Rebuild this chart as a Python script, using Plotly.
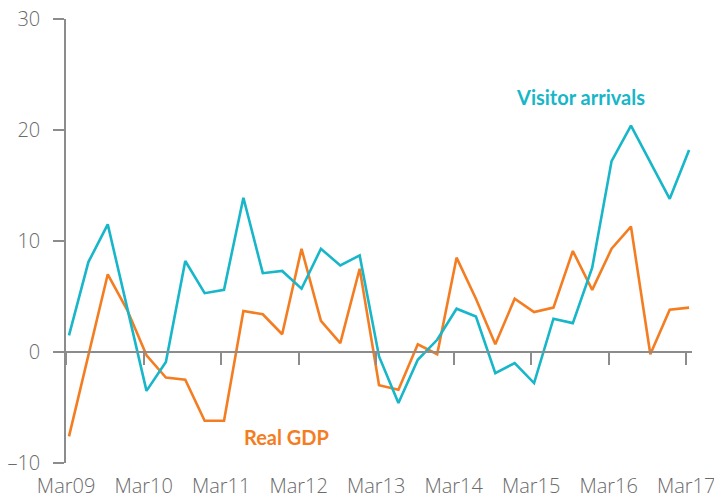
import plotly.graph_objects as go

quarters = list(range(33))
tick_labels = ["Mar09", "Mar10", "Mar11", "Mar12", "Mar13", "Mar14", "Mar15", "Mar16", "Mar17"]

visitor_arrivals = [1.5, 8.1, 11.5, 4.0, -3.5, -0.9, 8.2, 5.3, 5.6, 13.9, 7.1, 7.3, 5.7,
                    9.3, 7.8, 8.7, -0.4, -4.6, -0.7, 1.1, 3.9, 3.2, -1.9, -1.0, -2.8,
                    3.0, 2.6, 7.6, 17.2, 20.4, 17.1, 13.8, 18.2]
real_gdp = [-7.6, -0.2, 7.0, 3.8, -0.3, -2.3, -2.5, -6.2, -6.2, 3.7, 3.4, 1.6, 9.3,
            2.8, 0.8, 7.5, -3.0, -3.4, 0.7, -0.2, 8.5, 4.8, 0.7, 4.8, 3.6,
            4.0, 9.1, 5.6, 9.3, 11.3, -0.2, 3.8, 4.0]

y_ticks = [-10, 0, 10, 20, 30]
y_tick_text = ["\u201310", "0", "10", "20", "30"]

CYAN = "#17B6C9"
ORANGE = "#F47D22"
GREY = "#8c8c8c"
LABEL = "#6b6b6b"

tick_pos = [4 * k - 0.15 for k in range(len(tick_labels))]
TICKFONT = dict(family="Open Sans", size=20, color=LABEL, weight=300)

fig = go.Figure()
fig.add_trace(go.Scatter(x=quarters, y=real_gdp, mode="lines",
                         line=dict(color=ORANGE, width=2.6), name="Real GDP"))
fig.add_trace(go.Scatter(x=quarters, y=visitor_arrivals, mode="lines",
                         line=dict(color=CYAN, width=2.6), name="Visitor arrivals"))
# invisible trace to host the zero-line axis
fig.add_trace(go.Scatter(x=[quarters[0]], y=[0], xaxis="x2", mode="lines",
                         line=dict(width=0), showlegend=False, hoverinfo="skip"))

fig.add_annotation(x=26.4, y=23.0, text="<b>Visitor arrivals</b>", showarrow=False,
                   font=dict(family="Lato", size=20, color=CYAN))
fig.add_annotation(x=11.2, y=-7.65, text="<b>Real GDP</b>", showarrow=False,
                   font=dict(family="Lato", size=20, color=ORANGE))

xr = [-0.155, 32.15]
fig.update_layout(
    width=714, height=501,
    margin=dict(l=66, r=22, t=19, b=38),
    plot_bgcolor="white", paper_bgcolor="white",
    showlegend=False,
    font=dict(family="Open Sans", size=20, color=LABEL),
    xaxis=dict(range=xr, tickvals=tick_pos, ticktext=tick_labels, automargin=False,
               showline=False, showgrid=False, zeroline=False, ticks="",
               ticklabelstandoff=9, ticklabeloverflow="allow", tickfont=TICKFONT),
    xaxis2=dict(range=xr, overlaying="x", anchor="free", position=0.25, side="bottom",
                tickvals=tick_pos, showticklabels=False, showline=True, linecolor=GREY,
                linewidth=1.5, ticks="outside", ticklen=12, tickwidth=1.5, tickcolor=GREY,
                showgrid=False, zeroline=False, automargin=False),
    yaxis=dict(range=[-10, 30], tickvals=y_ticks, ticktext=y_tick_text, automargin=False,
               showline=True, linecolor=GREY, linewidth=1.5, ticks="outside",
               ticklen=11, tickwidth=1.5, tickcolor=GREY, showgrid=False, zeroline=False,
               ticklabelstandoff=9, tickfont=TICKFONT),
)

fig.write_html("out.html", config={"displayModeBar": False},
               post_script="document.body.style.margin='0';")
